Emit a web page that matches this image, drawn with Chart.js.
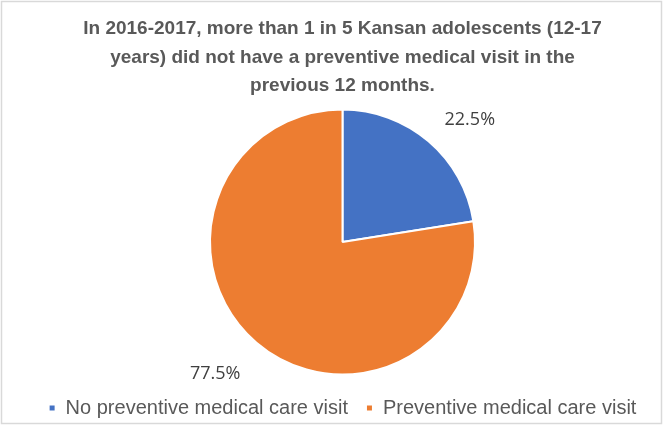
<!DOCTYPE html>
<html>
<head>
<meta charset="utf-8">
<script src="https://cdn.jsdelivr.net/npm/chart.js@4"></script>
<style>
body{margin:0;background:#fff;}
#wrap{width:663px;height:425px;}
</style>
</head>
<body>
<div id="wrap"><canvas id="pieChart" width="663" height="425"></canvas></div>
<script>
// DATA

const categories = [
"No preventive medical care visit",
"Preventive medical care visit"
];

const percents = [22.5,77.5];

const sliceColors = ["#4472C4","#ED7D31"];

const titleLines = [
"In 2016-2017, more than 1 in 5 Kansan adolescents (12-17",
"years) did not have a preventive medical visit in the",
"previous 12 months."
];

// FRAME + OUTSIDE LABELS

const framePlugin = {
id:"frame",
beforeDraw(chart){
const c = chart.ctx;
c.save();
c.fillStyle="#fff";
c.fillRect(0,0,chart.width,chart.height);
c.strokeStyle="#d9d9d9";
c.lineWidth=1.5;
c.strokeRect(1.5,1.5,chart.width-3,chart.height-3);
c.restore();
}
};

const labelPlugin = {
id:"outLabels",
afterDatasetsDraw(chart){
const c = chart.ctx;
const arcs = chart.getDatasetMeta(0).data;
c.save();
c.font = "18px 'Open Sans', sans-serif";
c.fillStyle = "#404040";
c.textAlign = "center";
c.textBaseline = "middle";
arcs.forEach((arc,i)=>{
const mid = (arc.startAngle+arc.endAngle)/2;
const r = arc.outerRadius + 20;
const dx = Math.cos(mid), dy = Math.sin(mid);
const txt = percents[i].toFixed(1)+"%";
const w = c.measureText(txt).width;
const h = 22;
const px = arc.x + r*dx + Math.sign(dx)*(w/2+3);
const py = arc.y + r*dy + Math.sign(dy)*h/2 + 5;
c.fillText(txt,px,py);
});
c.restore();
}
};

new Chart(
document.getElementById("pieChart"),
{
type:"pie",
data:{
labels:categories,
datasets:[{
data:percents,
backgroundColor:sliceColors,
borderColor:"#ffffff",
borderWidth:2,
radius:132.5
}]
},
options:{
responsive:false,
animation:false,
layout:{padding:{left:22,right:0,top:0,bottom:-3}},
plugins:{
title:{
display:true,
text:titleLines,
color:"#595959",
font:{family:"'Liberation Sans Narrow', 'Liberation Sans', sans-serif",size:19,weight:"bold",lineHeight:1.5},
padding:{top:15,bottom:3.5}
},
legend:{
position:"bottom",
labels:{
color:"#595959",
font:{family:"'Liberation Sans Narrow', 'Liberation Sans', sans-serif",size:20},
boxWidth:7,
boxHeight:7,
padding:18
}
},
tooltip:{enabled:false}
}
},
plugins:[framePlugin,labelPlugin]
}
);
</script>
</body>
</html>
